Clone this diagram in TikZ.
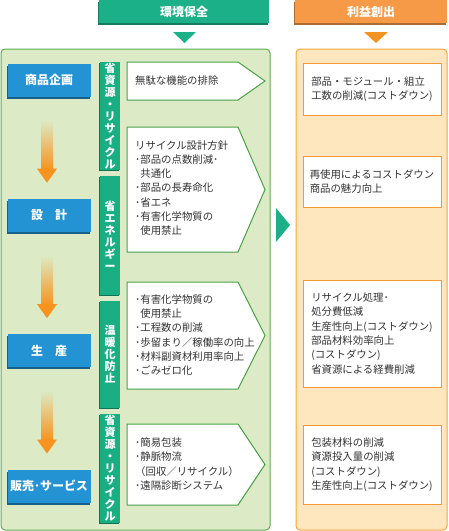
\documentclass[tikz,border=0pt]{standalone}
\usepackage{fontspec}
\setmainfont{Noto Sans CJK JP}
\usetikzlibrary{positioning, calc, shadows}
\definecolor{envgreen}{HTML}{1BB087}
\definecolor{profitor}{HTML}{F69A48}
\definecolor{tripor}{HTML}{F39322}
\definecolor{panelgreen}{HTML}{DCEBC5}
\definecolor{panelline}{HTML}{5DB04F}
\definecolor{panelor}{HTML}{FEE7BF}
\definecolor{panelorline}{HTML}{F7A33D}
\definecolor{stageblue}{HTML}{2393D4}
\definecolor{barteal}{HTML}{19AF83}
\definecolor{ecoline}{HTML}{4AA047}
\definecolor{gainline}{HTML}{F39A35}
\definecolor{arrowor}{HTML}{F7931E}
\definecolor{textgray}{HTML}{333333}

\begin{document}
\begin{tikzpicture}[
    x=1pt, y=-1pt,
    font=\fontsize{10.4}{14.3}\selectfont,
    header/.style={rectangle, fill=#1, text=white, inner sep=0pt,
                   minimum height=23pt, font=\bfseries\fontsize{12}{14}\selectfont,
                   drop shadow={shadow xshift=-1pt, shadow yshift=-2pt, fill=#1!70!black, opacity=1}},
    stage/.style={rectangle, fill=stageblue, text=white, inner sep=0pt,
                  minimum width=83pt, minimum height=33pt, font=\bfseries\fontsize{12}{14}\selectfont,
                  drop shadow={shadow xshift=-1pt, shadow yshift=-2pt, fill=stageblue!65!black, opacity=1}},
    bar/.style={rectangle, fill=barteal, text=white, inner sep=0pt, minimum width=20pt,
                align=center, font=\bfseries\fontsize{11}{12}\selectfont,
                drop shadow={shadow xshift=-1pt, shadow yshift=-1pt, fill=barteal!65!black, opacity=1}},
    ecoarrow/.style={draw=ecoline, fill=white, line width=1pt},
    note/.style={anchor=west, align=left, inner sep=4pt, text=textgray},
    gain/.style={rectangle, draw=gainline, fill=white, line width=1pt, minimum width=138pt,
                 align=left, text=textgray}
]
    \useasboundingbox (0,0) rectangle (448,531);

    % headers
    \node[header=envgreen, minimum width=170pt] (envhead) at (184,11.5) {環境保全};
    \node[header=profitor, minimum width=152pt] (profhead) at (371,11.5) {利益創出};
    \fill[envgreen] (173,32) -- (196,32) -- (184.5,43) -- cycle;
    \fill[tripor] (364,32) -- (388,32) -- (376,43) -- cycle;

    % panels
    \draw[fill=panelgreen, draw=panelline, line width=1pt, rounded corners=4pt] (1,49) rectangle (270,530);
    \draw[fill=panelor, draw=panelorline, line width=1pt, rounded corners=4pt] (296,49) rectangle (447,530);

    % stages
    \node[stage] (plan) at (49,80) {商品企画};
    \node[stage, below=102pt of plan] (design) {設　計};
    \node[stage, below=102pt of design] (prod) {生　産};
    \node[stage, below=102pt of prod] (sales) {販売･サービス};

    \foreach \a/\b in {plan/design, design/prod, prod/sales} {
        \shade[top color=arrowor!4!panelgreen, bottom color=arrowor]
            ($(\a.south)+(-8,25)$) rectangle ($(\b.north)+(4,-29)$);
        \fill[arrowor] ($(\b.north)+(-12,-30)$) -- ($(\b.north)+(8,-30)$) -- ($(\b.north)+(-2,-16)$) -- cycle;
    }

    % vertical labels
    \node[bar, minimum height=108pt] (bar1) at (110,116) {省\\資\\源\\・\\リ\\サ\\イ\\ク\\ル};
    \node[bar, minimum height=119pt] (bar2) at (110,235.5) {省\\エ\\ネ\\ル\\ギ\\ー};
    \node[bar, minimum height=107pt] (bar3) at (110,354.5) {温\\暖\\化\\防\\止};
    \node[bar, minimum height=109pt] (bar4) at (110,468.5) {省\\資\\源\\・\\リ\\サ\\イ\\ク\\ル};

    % measures
    \foreach \ya/\yb in {62/100, 127/252, 282/389, 424/505}
        \draw[ecoarrow] (127,\ya) -- (238,\ya) -- (265,{(\ya+\yb)/2}) -- (238,\yb) -- (127,\yb) -- cycle;

    \node[note] (eco1) at (131,81) {無駄な機能の排除};
    \node[note] (eco2) at (131,188) {リサイクル設計方針\\･部品の点数削減･\\\phantom{･}共通化\\･部品の長寿命化\\･省エネ\\･有害化学物質の\\\phantom{･}使用禁止};
    \node[note] (eco3) at (131,335) {･有害化学物質の\\\phantom{･}使用禁止\\･工程数の削減\\･歩留まり／稼働率の向上\\･材料副資材利用率向上\\･ごみゼロ化};
    \node[note] (eco4) at (131,464) {･簡易包装\\･静脈物流\\（回収／リサイクル）\\･遠隔診断システム};

    \fill[envgreen] (276,208) -- (290,225) -- (276,242) -- cycle;

    % gains
    \node[gain, minimum height=52pt] (gain1) at (372,89) {部品・モジュール・組立\\工数の削減(コストダウン)};
    \node[gain, minimum height=51pt] (gain2) at (372,181.5) {再使用によるコストダウン\\商品の魅力向上};
    \node[gain, minimum height=107pt] (gain3) at (372,333.5) {リサイクル処理･\\処分費低減\\生産性向上(コストダウン)\\部品材料効率向上\\(コストダウン)\\省資源による経費削減};
    \node[gain, minimum height=79pt] (gain4) at (372,464.5) {包装材料の削減\\資源投入量の削減\\(コストダウン)\\生産性向上(コストダウン)};
\end{tikzpicture}
\end{document}
